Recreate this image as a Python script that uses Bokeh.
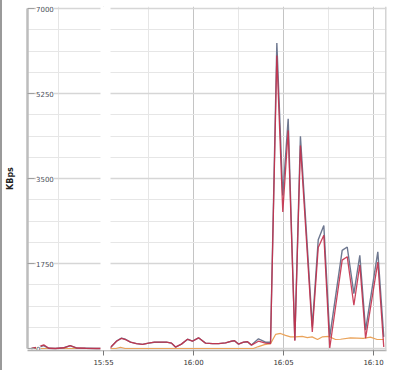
from bokeh.plotting import figure
from bokeh.layouts import row
from bokeh.models import Range1d, FixedTicker, Span, Spacer, BoxAnnotation
from bokeh.embed import file_html
from bokeh.resources import INLINE
from bokeh.core.properties import value
import numpy as np

# ---------------- data (time in minutes relative to 16:00) ----------------
series_time = [-9.0, -8.67, -8.32, -8.04, -7.67, -7.2, -6.85, -6.5, -6.0, -5.4, -4.9,
               -4.64, -4.28, -4.0, -3.78, -3.5, -3.17, -2.83, -2.5, -2.17, -1.83, -1.5,
               -1.22, -1.0, -0.67, -0.33, -0.06, 0.28, 0.67, 1.06, 1.39, 1.78, 2.11, 2.28,
               2.5, 2.78, 3.0, 3.22, 3.61, 4.0, 4.28, 4.63, 4.96, 5.26, 5.63, 5.94, 6.6,
               6.93, 7.24, 7.57, 8.26, 8.54, 8.91, 9.24, 9.56, 10.24, 10.57]
total_kbps = [0, 20, 60, 5, 0, 15, 60, 10, 5, 0, 0,
              10, 150, 215, 190, 130, 100, 85, 110, 130, 130, 130,
              110, 30, 90, 190, 150, 220, 110, 100, 100, 115, 150, 160,
              90, 130, 140, 70, 200, 130, 130, 6290, 3150, 4730, 170, 4370, 450,
              2240, 2530, 240, 2020, 2090, 1130, 1920, 380, 1990, 240]
inbound_kbps = [0, 30, 76, 5, 0, 15, 60, 10, 5, 0, 0,
                10, 150, 210, 185, 130, 100, 85, 110, 130, 130, 130,
                110, 30, 90, 190, 150, 220, 110, 100, 100, 115, 150, 160,
                90, 130, 140, 70, 150, 110, 100, 6030, 2810, 4490, 160, 4180, 340,
                2080, 2330, 10, 1820, 1890, 890, 1720, 210, 1780, 30]

outbound_time = [-9.0, -4.3, -4.06, -3.8, 3.33, 3.61, 3.94, 4.28, 4.56, 4.83, 5.11, 5.39,
                 5.67, 6.04, 6.32, 6.59, 6.89, 7.17, 7.5, 7.89, 8.17, 8.72, 9.44, 9.83,
                 10.2, 10.57]
outbound_kbps = [0, 0, 25, 0, 0, 40, 80, 100, 290, 310, 270, 240,
                 240, 250, 225, 240, 185, 240, 250, 185, 190, 220, 210, 235,
                 185, 185]

y_ticks = [0, 1750, 3500, 5250, 7000]
y_tick_labels = ["0", "1750", "3500", "5250", "7000"]
x_ticks = [-5, 0, 5, 10]
x_tick_labels = ["15:55", "16:00", "16:05", "16:10"]
y_axis_title = "KBps"

# ---------------- layout constants ----------------
def t_at(px):          # horizontal pixel -> minutes (16:00 at px 193, 18 px/min)
    return (px - 193.0) / 18.0

def v_at(py):          # vertical pixel -> KBps (0 at py 348, 7000 at py 8)
    return (348.0 - py) * 7000.0 / 340.0

FONT = "DejaVu Sans"
C_TOTAL = "#6e7890"
C_IN = "#c42f4a"
C_OUT = "#eaa35a"

y_minor = [v for v in np.arange(0, 7000.1, 437.5) if v not in y_ticks]
x_grid_major = [-10, -5, 0, 5, 10]
x_grid_minor = [-7.5, -2.5, 2.5, 7.5, 12.5]

p = figure(width=398, height=370,
           x_range=Range1d(t_at(27), t_at(386)), y_range=Range1d(v_at(350), v_at(6)),
           min_border_left=25, min_border_right=14, min_border_top=6, min_border_bottom=20,
           output_backend="svg", toolbar_location=None)
p.outline_line_color = None

# grid
p.ygrid.ticker = FixedTicker(ticks=y_ticks, minor_ticks=y_minor)
p.ygrid.grid_line_color = "#d6d6d6"
p.ygrid.grid_line_width = 1.5
p.ygrid.minor_grid_line_color = "#e6e6e6"
p.xgrid.ticker = FixedTicker(ticks=x_grid_major, minor_ticks=x_grid_minor)
p.xgrid.grid_line_color = "#c4c4c4"
p.xgrid.minor_grid_line_color = "#e6e6e6"

# y axis (labels drawn inside the plot, as in the reference)
p.yaxis.ticker = FixedTicker(ticks=y_ticks, minor_ticks=[])
p.yaxis.bounds = (y_ticks[0], y_ticks[-1])
p.yaxis.axis_line_color = "#bdbdbd"
p.yaxis.axis_line_width = 2.5
p.yaxis.major_tick_in = 7
p.yaxis.major_tick_out = 0
p.yaxis.major_tick_line_color = "#a0a0a0"
p.yaxis.minor_tick_in = 0
p.yaxis.minor_tick_out = 0
p.yaxis.major_label_text_color = None
p.yaxis.major_label_text_font_size = "1px"
p.yaxis.major_label_standoff = 0
p.yaxis.axis_label = y_axis_title
p.yaxis.axis_label_text_font = FONT
p.yaxis.axis_label_text_font_size = "8px"
p.yaxis.axis_label_text_font_style = "bold"
p.yaxis.axis_label_text_color = "#222222"
p.yaxis.axis_label_standoff = 13

# x axis
p.xaxis.ticker = FixedTicker(ticks=x_ticks, minor_ticks=[])
p.xaxis.major_label_overrides = {t: lab for t, lab in zip(x_ticks, x_tick_labels)}
p.xaxis.axis_line_color = "#b0b0b0"
p.xaxis.axis_line_width = 1.5
p.xaxis.major_tick_in = 0
p.xaxis.major_tick_out = 5
p.xaxis.major_tick_line_color = "#777777"
p.xaxis.minor_tick_in = 0
p.xaxis.minor_tick_out = 0
p.xaxis.major_label_text_font_size = "7px"
p.xaxis.major_label_text_font = FONT
p.xaxis.major_label_text_color = "#333333"
p.xaxis.major_label_standoff = 3

# series
p.line(outbound_time, outbound_kbps, line_color=C_OUT, line_width=1.2)
p.line(series_time, total_kbps, line_color=C_TOTAL, line_width=1.4)
p.line(series_time, inbound_kbps, line_color=C_IN, line_width=1.3, line_alpha=0.9)

# y tick labels inside the frame
p.text(x=[p.x_range.start] * len(y_ticks), y=y_ticks, text=y_tick_labels,
       x_offset=8.5, text_align="left", text_baseline="middle",
       text_font_size="7px", text_font=value(FONT), text_color="#4a4f5a",
       background_fill_color="white")

# gap between overview part and main part, and right border
p.add_layout(BoxAnnotation(left=t_at(100), right=t_at(110), fill_color="white",
                           fill_alpha=1.0, line_color=None))
p.add_layout(Span(location=t_at(385.5), dimension="height",
                  line_color="#d4d4d4", line_width=2))

edge = Spacer(width=2, height=370, styles={"background-color": "#9a9a9a"})
layout = row(edge, p)
open("out.html", "w").write(file_html(layout, INLINE))
